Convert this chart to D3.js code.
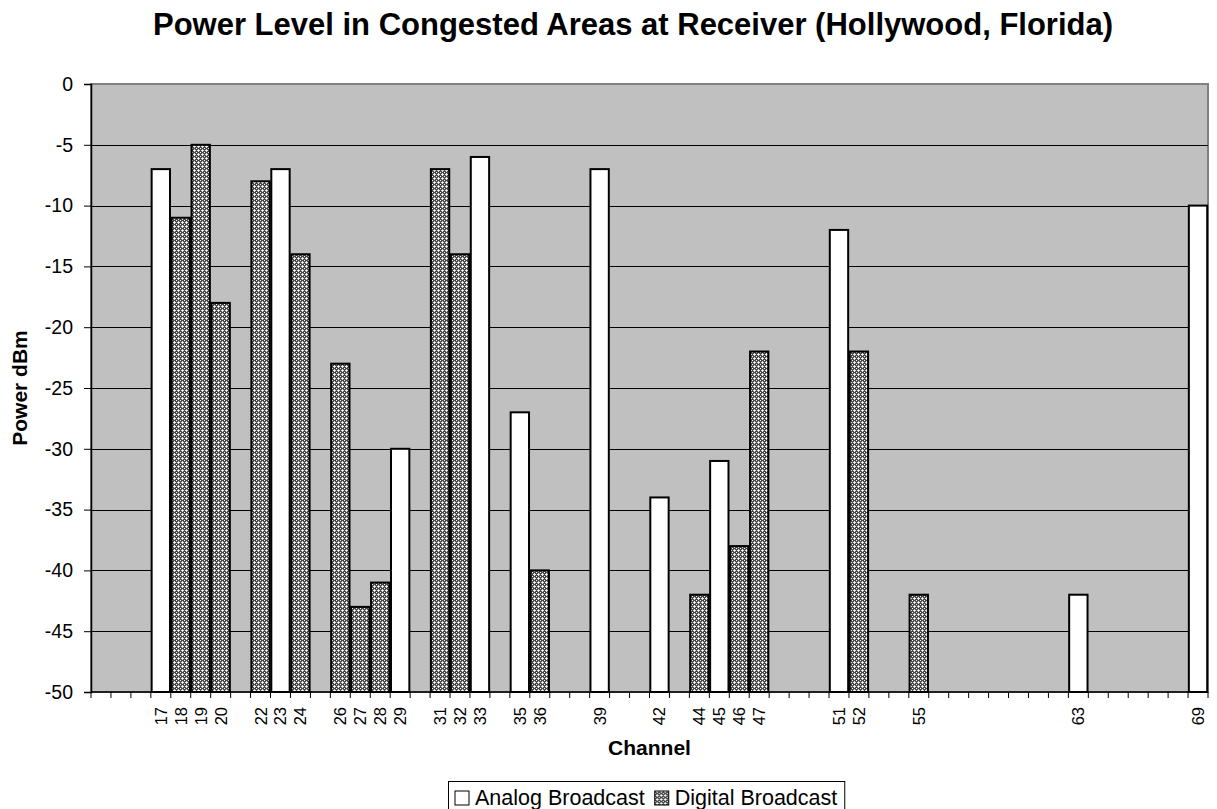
<!DOCTYPE html>
<html>
<head>
<meta charset="utf-8">
<script src="https://cdn.jsdelivr.net/npm/d3@7/dist/d3.min.js"></script>
<style>
  html, body { margin: 0; padding: 0; background: #fff; }
  svg { display: block; font-family: Arial, "Liberation Sans", sans-serif; }
</style>
</head>
<body>
<svg id="chart" width="1217" height="809"></svg>
<script>
// Channel range on the category axis (every channel gets a slot)
const channelStart = 14;
const channelEnd = 69;

// Analog broadcast levels (dBm) by channel
const analogChannels = [17, 23, 29, 33, 35, 39, 42, 45, 51, 63, 69];
const analogPower    = [-7, -7, -30, -6, -27, -7, -34, -31, -12, -42, -10];

// Digital broadcast levels (dBm) by channel
const digitalChannels = [18, 19, 20, 22, 24, 26, 27, 28, 31, 32, 36, 44, 46, 47, 52, 55];
const digitalPower    = [-11, -5, -18, -8, -14, -23, -43, -41, -7, -14, -40, -42, -38, -22, -22, -42];

// Power axis ticks
const yTicks = [0, -5, -10, -15, -20, -25, -30, -35, -40, -45, -50];

const seriesNames = ["Analog Broadcast", "Digital Broadcast"];

const svg = d3.select("#chart");
const plot = { left: 91, right: 1208, top: 84, bottom: 692 };

const channels = d3.range(channelStart, channelEnd + 1);
const labelled = new Set([...analogChannels, ...digitalChannels]);

const x = d3.scaleBand()
  .domain(channels)
  .range([plot.left, plot.right])
  .paddingInner(0)
  .paddingOuter(0);

const y = d3.scaleLinear()
  .domain([-50, 0])
  .range([plot.bottom, plot.top]);

// Hatched fill for the digital series
const defs = svg.append("defs");
const pat = defs.append("pattern")
  .attr("id", "hatch")
  .attr("patternUnits", "userSpaceOnUse")
  .attr("width", 4).attr("height", 4);
pat.append("rect").attr("width", 4).attr("height", 4).attr("fill", "#4a4a4a");
pat.append("rect").attr("x", 2).attr("y", 2).attr("width", 1).attr("height", 1).attr("fill", "#fff");
pat.append("rect").attr("x", 0).attr("y", 0).attr("width", 1).attr("height", 1).attr("fill", "#fff");
pat.append("rect").attr("x", 1).attr("y", 2).attr("width", 1).attr("height", 1).attr("fill", "#e0e0e0");
pat.append("rect").attr("x", 3).attr("y", 2).attr("width", 1).attr("height", 1).attr("fill", "#e0e0e0");
pat.append("rect").attr("x", 2).attr("y", 1).attr("width", 1).attr("height", 1).attr("fill", "#e0e0e0");
pat.append("rect").attr("x", 2).attr("y", 3).attr("width", 1).attr("height", 1).attr("fill", "#e0e0e0");

// Plot background with grey frame
svg.append("rect")
  .attr("x", plot.left).attr("y", plot.top)
  .attr("width", plot.right - plot.left)
  .attr("height", plot.bottom - plot.top)
  .attr("fill", "#c0c0c0")
  .attr("stroke", "#808080")
  .attr("stroke-width", 2);

// Horizontal gridlines
svg.append("g")
  .selectAll("line")
  .data(yTicks.filter(d => d !== 0 && d !== -50))
  .join("line")
  .attr("x1", plot.left).attr("x2", plot.right)
  .attr("y1", d => Math.round(y(d)) + 0.5).attr("y2", d => Math.round(y(d)) + 0.5)
  .attr("stroke", "#000").attr("stroke-width", 1);

// Bars
const step = x.step();
const barW = step * 0.92;
const cx = c => x(c) + x.bandwidth() / 2;

const analogData = analogChannels.map((c, i) => ({ c, v: analogPower[i] }));
const digitalData = digitalChannels.map((c, i) => ({ c, v: digitalPower[i] }));

svg.append("g").selectAll("rect")
  .data(analogData)
  .join("rect")
  .attr("x", d => cx(d.c) - barW / 2)
  .attr("width", barW)
  .attr("y", d => y(d.v))
  .attr("height", d => y(-50) - y(d.v))
  .attr("fill", "#fff")
  .attr("stroke", "#000")
  .attr("stroke-width", 2);

svg.append("g").selectAll("rect")
  .data(digitalData)
  .join("rect")
  .attr("x", d => cx(d.c) - barW / 2)
  .attr("width", barW)
  .attr("y", d => y(d.v))
  .attr("height", d => y(-50) - y(d.v))
  .attr("fill", "url(#hatch)")
  .attr("stroke", "#000")
  .attr("stroke-width", 2);

// Y axis (plain hyphen for negative numbers)
const yAxis = svg.append("g")
  .attr("transform", `translate(${plot.left},0)`)
  .call(d3.axisLeft(y).tickValues(yTicks).tickSize(7).tickPadding(11).tickFormat(d => String(d)));
yAxis.select(".domain").attr("stroke", "#000").attr("stroke-width", 1.5);
yAxis.selectAll(".tick line").attr("stroke", "#000");
yAxis.selectAll("text")
  .attr("fill", "#000")
  .style("font-size", "19.5px")
  .style("font-family", "Arial, 'Liberation Sans', sans-serif");

// X axis: tick marks at channel boundaries
const xAxisG = svg.append("g");
xAxisG.append("line")
  .attr("x1", plot.left).attr("x2", plot.right)
  .attr("y1", plot.bottom).attr("y2", plot.bottom)
  .attr("stroke", "#000").attr("stroke-width", 1.5);
const boundaries = channels.map(c => x(c)).concat([plot.right]);
xAxisG.selectAll("line.tk")
  .data(boundaries)
  .join("line")
  .attr("class", "tk")
  .attr("x1", d => d).attr("x2", d => d)
  .attr("y1", plot.bottom).attr("y2", plot.bottom + 6)
  .attr("stroke", "#000");

// Channel labels (only channels that carry a measurement)
xAxisG.selectAll("text")
  .data(channels.filter(c => labelled.has(c)))
  .join("text")
  .attr("transform", c => `translate(${cx(c) + 6},${plot.bottom + 15}) rotate(-90)`)
  .attr("text-anchor", "end")
  .style("font-size", "16.5px")
  .attr("fill", "#000")
  .text(c => c);

// Title and axis titles
svg.append("text")
  .attr("x", 633).attr("y", 35)
  .attr("text-anchor", "middle")
  .style("font-size", "31px").attr("font-weight", "bold")
  .text("Power Level in Congested Areas at Receiver (Hollywood, Florida)");

svg.append("text")
  .attr("x", 649.5).attr("y", 755)
  .attr("text-anchor", "middle")
  .style("font-size", "21px").attr("font-weight", "bold")
  .text("Channel");

svg.append("text")
  .attr("transform", `translate(27,${(plot.top + plot.bottom) / 2}) rotate(-90)`)
  .attr("text-anchor", "middle")
  .style("font-size", "21px").attr("font-weight", "bold")
  .text("Power dBm");

// Legend
const legend = svg.append("g").attr("transform", "translate(448,781)");
const fills = ["#fff", "url(#hatch)"];
const items = legend.selectAll("g.item")
  .data(seriesNames)
  .join("g")
  .attr("class", "item");
items.append("rect")
  .attr("y", 10).attr("width", 14).attr("height", 14)
  .attr("fill", (d, i) => fills[i]).attr("stroke", "#000").attr("stroke-width", 1);
items.append("text")
  .attr("x", 20).attr("y", 24)
  .style("font-size", "21.5px")
  .text(d => d);
// place items one after another by measured text width
let offset = 7;
items.each(function () {
  const g = d3.select(this);
  g.attr("transform", `translate(${offset},0)`);
  offset += 20 + g.select("text").node().getComputedTextLength() + 10;
});
legend.insert("rect", ":first-child")
  .attr("x", 0.5).attr("y", 0.5).attr("width", offset - 3).attr("height", 40)
  .attr("fill", "#fff").attr("stroke", "#000");
</script>
</body>
</html>
